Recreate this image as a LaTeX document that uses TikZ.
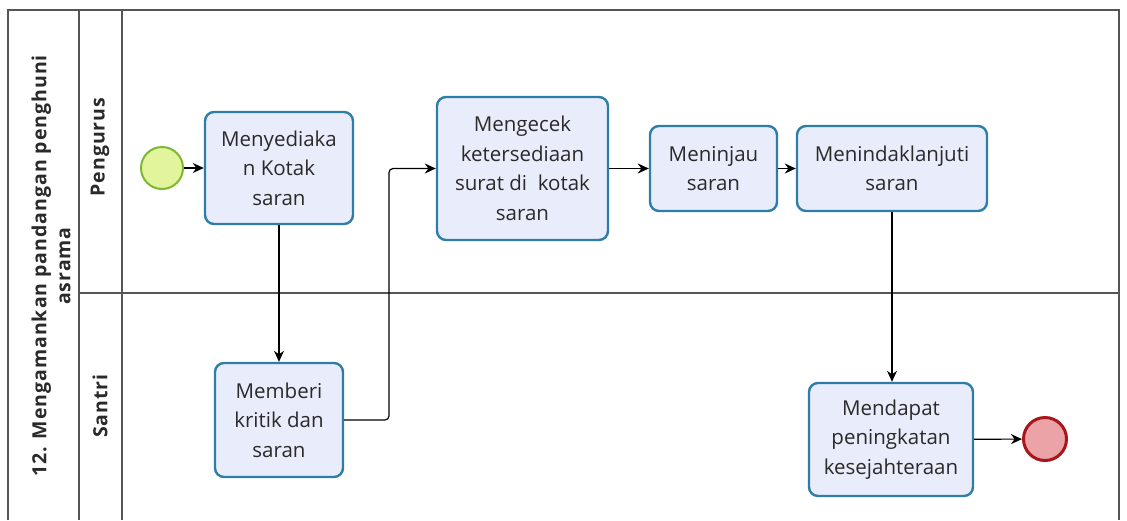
\documentclass[tikz,border=0pt]{standalone}
\usepackage{fontspec}
\setmainfont{Open Sans}
\newfontfamily\lanefont[LetterSpace=5]{Open Sans}
\newfontfamily\titlefont[LetterSpace=5]{Open Sans}
\usetikzlibrary{arrows.meta}
\definecolor{taskfill}{HTML}{E9EDFB}
\definecolor{taskline}{HTML}{2E7DA8}
\definecolor{startfill}{HTML}{E2F59C}
\definecolor{startline}{HTML}{7DB834}
\definecolor{endfill}{HTML}{EBA3A7}
\definecolor{endline}{HTML}{A8161C}
\definecolor{poolline}{HTML}{555555}
\definecolor{txt}{HTML}{2A2A2A}
\tikzset{
  task/.style={draw=taskline, line width=2.4pt, fill=taskfill, rounded corners=9pt,
    align=center, text=txt, font=\fontsize{20.5}{29.5}\selectfont, inner sep=2pt},
  startev/.style={circle, draw=startline, line width=2pt, fill=startfill, minimum size=42pt, inner sep=0pt},
  endev/.style={circle, draw=endline, line width=3pt, fill=endfill, minimum size=43pt, inner sep=0pt},
  flow/.style={draw=black, line width=1.2pt, -{Stealth[length=11pt,width=10pt]}},
  pool/.style={draw=poolline, line width=1.2pt},
  lanelabel/.style={rotate=90, font=\lanefont\bfseries\fontsize{19.5}{22}\selectfont, text=txt},
}
\begin{document}
\begin{tikzpicture}[x=1pt,y=-1pt]
\useasboundingbox (0,0) rectangle (1127,520);
% pool
\draw[pool, line width=1.8pt] (8,520) -- (8,10) -- (1119,10) -- (1119,520);
\draw[pool] (79,10) -- (79,520);
\draw[pool] (122,10) -- (122,520);
\draw[pool] (79,293) -- (1119,293);
\node[rotate=90, align=center, text=txt, font=\titlefont\bfseries\fontsize{19.5}{24}\selectfont] (pooltitle) at (51,266)
  {12. Mengamankan pandangan penghuni\\asrama};
\node[lanelabel] (lane1) at (100,147) {Pengurus};
\node[lanelabel] (lane2) at (100,406) {Santri};
% events and tasks
\node[startev] (start) at (162,168) {};
\node[task, minimum width=148pt, minimum height=112pt] (t1) at (279,168) {Menyediaka\\n Kotak\\saran};
\node[task, minimum width=128pt, minimum height=114pt] (t2) at (279,420) {Memberi\\kritik dan\\saran};
\node[task, minimum width=171pt, minimum height=143pt] (t3) at (522.5,168.5) {Mengecek\\ketersediaan\\surat di\ \ kotak\\saran};
\node[task, minimum width=127pt, minimum height=85pt] (t4) at (713.5,168.5) {Meninjau\\saran};
\node[task, minimum width=190pt, minimum height=85pt] (t5) at (892,168.5) {Menindaklanjuti\\saran};
\node[task, minimum width=164pt, minimum height=113pt] (t6) at (891,439.5) {Mendapat\\peningkatan\\kesejahteraan};
\node[endev] (end) at (1045,439) {};
% flows
\coordinate (bend) at (389,0);
\draw[flow] (start) -- (t1);
\draw[flow] (t1.south) -- (t2.north);
\draw[flow, rounded corners=4pt] (t2.east) -- (t2.east -| bend) -- (t3.west -| bend) -- (t3.west);
\draw[flow] (t3) -- (t4);
\draw[flow] (t4) -- (t5);
\draw[flow] (t5.south) -- (t5.south |- t6.north);
\draw[flow] (t6) -- (end);
\end{tikzpicture}
\end{document}
